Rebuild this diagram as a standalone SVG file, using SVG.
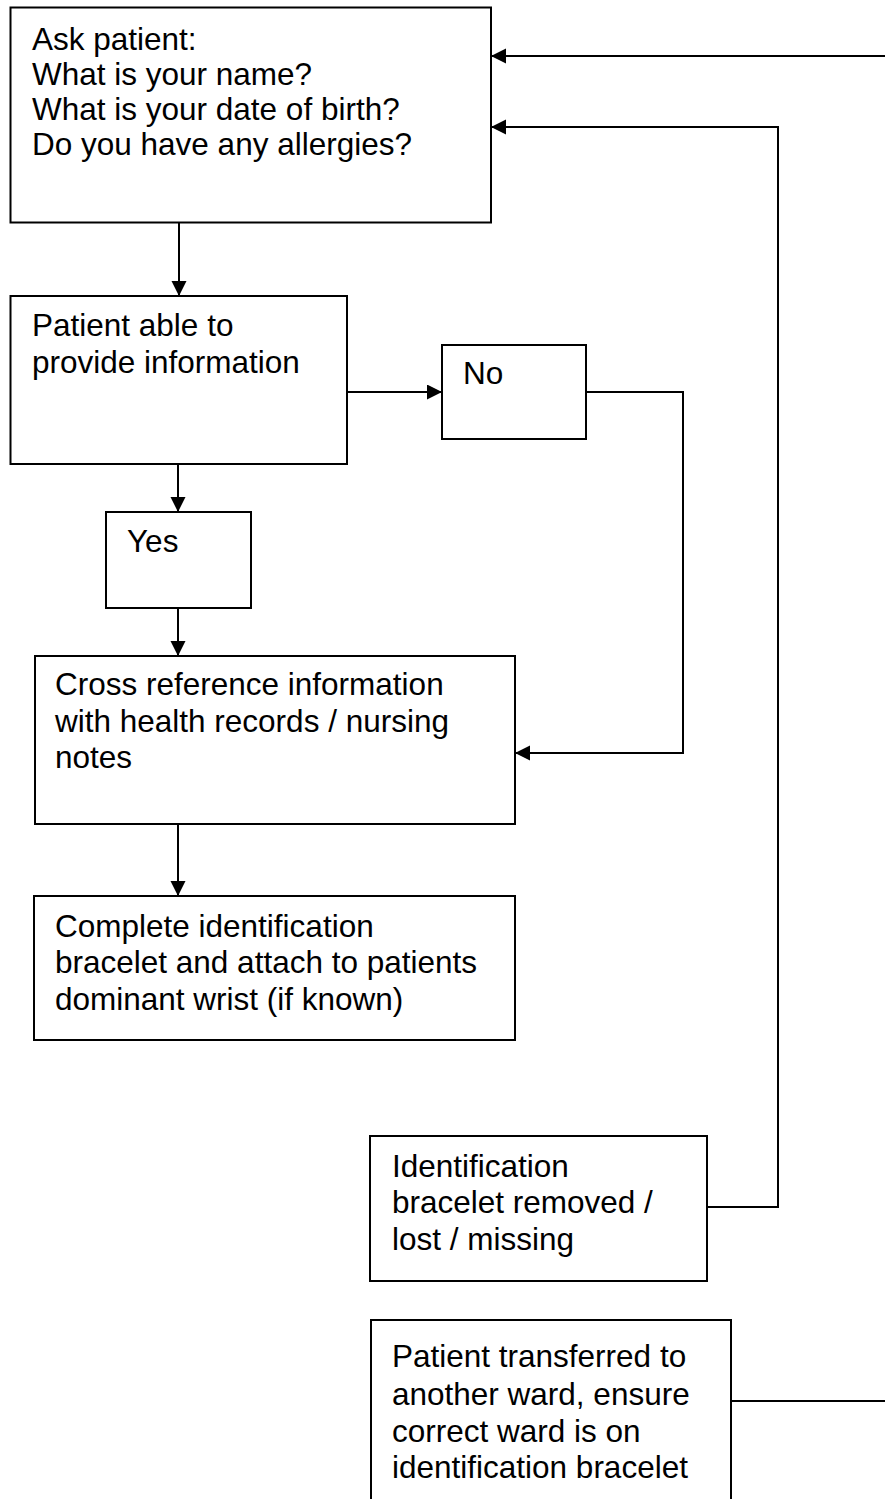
<svg xmlns="http://www.w3.org/2000/svg" width="885" height="1499" viewBox="0 0 885 1499">
<style>
.box{fill:#fff;stroke:#000;stroke-width:2}
.t{font-family:"Liberation Sans",Arial,sans-serif;font-size:31.5px;fill:#000}
.c{fill:none;stroke:#000;stroke-width:2}
</style>
<defs>
<marker id="ah" markerUnits="userSpaceOnUse" markerWidth="16" markerHeight="16" refX="15" refY="7.5" orient="auto">
<path d="M0,0 L15,7.5 L0,15 z" fill="#000"/>
</marker>
</defs>
<rect width="885" height="1499" fill="#fff"/>
<g id="connectors">
<path class="c" d="M179,223 V296" marker-end="url(#ah)"/>
<path class="c" d="M347,392 H442" marker-end="url(#ah)"/>
<path class="c" d="M586,392 H683 V753 H515" marker-end="url(#ah)"/>
<path class="c" d="M178,464 V512" marker-end="url(#ah)"/>
<path class="c" d="M178,608 V656" marker-end="url(#ah)"/>
<path class="c" d="M178,824 V896" marker-end="url(#ah)"/>
<path class="c" d="M707,1207 H778 V127 H491" marker-end="url(#ah)"/>
<path class="c" d="M885,56 H491" marker-end="url(#ah)"/>
<path class="c" d="M731,1401 H885"/>
</g>
<g id="ask">
<rect class="box" x="10.5" y="7.5" width="480.5" height="215"/>
<text class="t" x="32" y="50">Ask patient:</text>
<text class="t" x="32" y="85">What is your name?</text>
<text class="t" x="32" y="120">What is your date of birth?</text>
<text class="t" x="32" y="155">Do you have any allergies?</text>
</g>
<g id="able">
<rect class="box" x="10.5" y="296" width="336.5" height="168"/>
<text class="t" x="32" y="336">Patient able to</text>
<text class="t" x="32" y="373">provide information</text>
</g>
<g id="no">
<rect class="box" x="442" y="345" width="144" height="94"/>
<text class="t" x="463" y="384">No</text>
</g>
<g id="yes">
<rect class="box" x="106" y="512" width="145" height="96"/>
<text class="t" x="127" y="552">Yes</text>
</g>
<g id="cross">
<rect class="box" x="35" y="656" width="480" height="168"/>
<text class="t" x="55" y="695">Cross reference information</text>
<text class="t" x="55" y="732">with health records / nursing</text>
<text class="t" x="55" y="768">notes</text>
</g>
<g id="complete">
<rect class="box" x="34" y="896" width="481" height="144"/>
<text class="t" x="55" y="937">Complete identification</text>
<text class="t" x="55" y="973">bracelet and attach to patients</text>
<text class="t" x="55" y="1010">dominant wrist (if known)</text>
</g>
<g id="lost">
<rect class="box" x="370" y="1136" width="337" height="145"/>
<text class="t" x="392" y="1177">Identification</text>
<text class="t" x="392" y="1213">bracelet removed /</text>
<text class="t" x="392" y="1250">lost / missing</text>
</g>
<g id="transfer">
<rect class="box" x="371" y="1320" width="360" height="220"/>
<text class="t" x="392" y="1367">Patient transferred to</text>
<text class="t" x="392" y="1405">another ward, ensure</text>
<text class="t" x="392" y="1442">correct ward is on</text>
<text class="t" x="392" y="1478">identification bracelet</text>
</g>
</svg>
